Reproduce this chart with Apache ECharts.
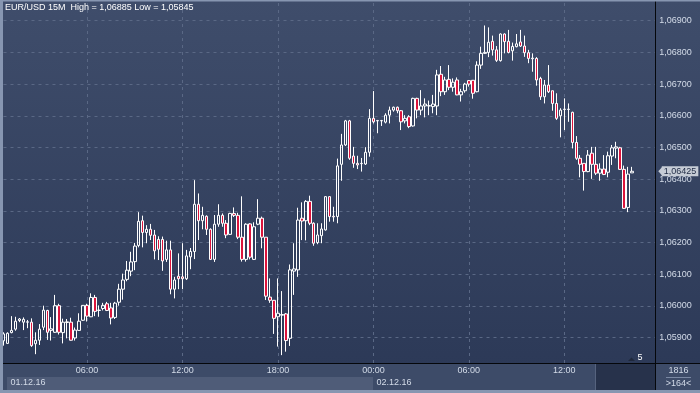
<!DOCTYPE html>
<html><head><meta charset="utf-8">
<script src="https://cdn.jsdelivr.net/npm/echarts@6/dist/echarts.min.js"></script>
<style>html,body{margin:0;padding:0;background:#34425f;}#c{width:700px;height:393px;}</style>
</head><body><div id="c"></div>
<script>
const titleText = 'EUR/USD 15M  High = 1,06885 Low = 1,05845';
const firstBar = '2016-12-01T00:45';
const barMinutes = 15;
const emptySlots = 6;
const hourTicks = ['00:00', '06:00', '12:00', '18:00'];
const yTicks = [1.059, 1.060, 1.061, 1.062, 1.063, 1.064, 1.065, 1.066, 1.067, 1.068, 1.069];
const lastPrice = 1.06425;

const opens = [1.05890,1.05882,1.05916,1.05927,1.05954,1.05949,1.05949,1.05949,1.05881,1.05892,1.05933,1.05986,1.05923,1.05917,1.06001,1.05916,1.05948,1.05949,1.05899,1.05923,
1.05955,1.06002,1.05966,1.06027,1.05986,1.05992,1.06007,1.05994,1.05964,1.06012,1.06053,1.06084,1.06110,1.06140,1.06191,1.06269,1.06232,1.06242,1.06224,1.06210,
1.06210,1.06147,1.06177,1.06053,1.06094,1.06092,1.06086,1.06155,1.06172,1.06321,1.06269,1.06283,1.06242,1.06147,1.06258,1.06286,1.06261,1.06226,1.06292,1.06286,
1.06217,1.06147,1.06259,1.06147,1.06258,1.06277,1.06217,1.06028,1.06018,1.05966,1.05971,1.05975,1.05898,1.06110,1.06114,1.06277,1.06269,1.06330,1.06261,1.06200,
1.06222,1.06240,1.06345,1.06283,1.06282,1.06447,1.06508,1.06584,1.06473,1.06450,1.06449,1.06448,1.06485,1.06592,1.06584,1.06584,1.06580,1.06602,1.06618,1.06627,
1.06616,1.06584,1.06597,1.06568,1.06655,1.06618,1.06631,1.06631,1.06629,1.06631,1.06731,1.06676,1.06715,1.06690,1.06713,1.06666,1.06679,1.06711,1.06712,1.06676,
1.06760,1.06797,1.06800,1.06835,1.06808,1.06774,1.06858,1.06835,1.06805,1.06818,1.06833,1.06820,1.06799,1.06780,1.06781,1.06718,1.06660,1.06697,1.06679,1.06639,
1.06600,1.06620,1.06620,1.06611,1.06516,1.06466,1.06450,1.06424,1.06482,1.06447,1.06419,1.06432,1.06422,1.06473,1.06498,1.06499,1.06431,1.06311,1.06420];
const closes = [1.05912,1.05914,1.05923,1.05952,1.05959,1.05958,1.05950,1.05875,1.05892,1.05927,1.05987,1.05917,1.05928,1.06001,1.05917,1.05949,1.05950,1.05892,1.05924,1.05952,
1.06002,1.05968,1.06027,1.05983,1.05987,1.06002,1.05986,1.05962,1.06009,1.06053,1.06082,1.06113,1.06139,1.06189,1.06267,1.06232,1.06242,1.06223,1.06174,1.06179,
1.06142,1.06177,1.06053,1.06082,1.06086,1.06086,1.06158,1.06172,1.06321,1.06269,1.06286,1.06242,1.06147,1.06258,1.06286,1.06261,1.06224,1.06292,1.06286,1.06217,
1.06147,1.06258,1.06154,1.06250,1.06277,1.06217,1.06031,1.06018,1.05961,1.05977,1.05973,1.05891,1.06114,1.06117,1.06271,1.06268,1.06330,1.06261,1.06198,1.06224,
1.06243,1.06345,1.06282,1.06281,1.06442,1.06508,1.06584,1.06466,1.06450,1.06445,1.06450,1.06485,1.06592,1.06581,1.06585,1.06585,1.06602,1.06618,1.06627,1.06616,
1.06581,1.06592,1.06566,1.06655,1.06618,1.06631,1.06637,1.06632,1.06637,1.06729,1.06676,1.06713,1.06690,1.06706,1.06666,1.06676,1.06700,1.06700,1.06671,1.06760,
1.06797,1.06800,1.06832,1.06808,1.06775,1.06858,1.06834,1.06800,1.06819,1.06827,1.06820,1.06799,1.06781,1.06782,1.06713,1.06660,1.06697,1.06676,1.06639,1.06592,
1.06618,1.06621,1.06621,1.06516,1.06466,1.06447,1.06424,1.06476,1.06447,1.06419,1.06432,1.06415,1.06474,1.06499,1.06502,1.06431,1.06308,1.06416,1.06425];
const lows = [1.05875,1.05880,1.05914,1.05922,1.05949,1.05924,1.05930,1.05871,1.05848,1.05877,1.05924,1.05893,1.05891,1.05915,1.05910,1.05882,1.05898,1.05891,1.05891,1.05922,
1.05953,1.05951,1.05965,1.05968,1.05966,1.05986,1.05984,1.05942,1.05959,1.06001,1.06020,1.06078,1.06094,1.06113,1.06185,1.06185,1.06198,1.06208,1.06147,1.06145,
1.06111,1.06139,1.06037,1.06024,1.06053,1.06053,1.06082,1.06116,1.06148,1.06208,1.06242,1.06224,1.06145,1.06139,1.06250,1.06250,1.06214,1.06224,1.06281,1.06211,
1.06140,1.06140,1.06147,1.06145,1.06255,1.06182,1.06019,1.06010,1.05912,1.05872,1.05845,1.05856,1.05874,1.06035,1.06092,1.06208,1.06207,1.06255,1.06190,1.06195,
1.06198,1.06238,1.06266,1.06266,1.06261,1.06395,1.06505,1.06461,1.06436,1.06432,1.06424,1.06445,1.06471,1.06576,1.06545,1.06568,1.06576,1.06576,1.06613,1.06608,
1.06555,1.06576,1.06561,1.06566,1.06592,1.06602,1.06595,1.06602,1.06608,1.06602,1.06662,1.06666,1.06681,1.06676,1.06665,1.06645,1.06673,1.06692,1.06654,1.06674,
1.06748,1.06795,1.06785,1.06790,1.06770,1.06771,1.06797,1.06797,1.06774,1.06816,1.06817,1.06786,1.06766,1.06739,1.06695,1.06650,1.06639,1.06672,1.06616,1.06587,
1.06532,1.06555,1.06581,1.06497,1.06461,1.06406,1.06364,1.06422,1.06401,1.06413,1.06395,1.06413,1.06406,1.06445,1.06466,1.06429,1.06306,1.06296,1.06420];
const highs = [1.05917,1.05917,1.05968,1.05966,1.05962,1.05964,1.05956,1.05961,1.05917,1.05943,1.06001,1.05988,1.05965,1.06035,1.06007,1.05960,1.05959,1.05963,1.05932,1.05977,
1.06003,1.06007,1.06040,1.06035,1.06002,1.06010,1.06013,1.06010,1.06013,1.06070,1.06102,1.06142,1.06171,1.06199,1.06296,1.06285,1.06255,1.06259,1.06240,1.06220,
1.06219,1.06206,1.06206,1.06092,1.06166,1.06198,1.06177,1.06183,1.06397,1.06355,1.06313,1.06286,1.06245,1.06287,1.06321,1.06292,1.06271,1.06294,1.06311,1.06294,
1.06346,1.06261,1.06261,1.06264,1.06337,1.06282,1.06217,1.06087,1.06019,1.06087,1.06047,1.05978,1.06131,1.06198,1.06310,1.06327,1.06334,1.06348,1.06264,1.06261,
1.06261,1.06346,1.06346,1.06313,1.06465,1.06543,1.06587,1.06587,1.06502,1.06474,1.06467,1.06501,1.06621,1.06678,1.06587,1.06587,1.06608,1.06629,1.06629,1.06629,
1.06618,1.06602,1.06602,1.06657,1.06657,1.06681,1.06655,1.06648,1.06666,1.06745,1.06757,1.06723,1.06760,1.06718,1.06721,1.06685,1.06704,1.06713,1.06713,1.06772,
1.06818,1.06885,1.06879,1.06853,1.06820,1.06860,1.06860,1.06871,1.06831,1.06858,1.06871,1.06853,1.06808,1.06797,1.06785,1.06723,1.06713,1.06760,1.06679,1.06671,
1.06624,1.06655,1.06639,1.06613,1.06536,1.06476,1.06450,1.06492,1.06502,1.06502,1.06450,1.06476,1.06487,1.06508,1.06518,1.06502,1.06443,1.06439,1.06439];

// category labels: one per 15-minute bar, plus empty slots to the right
function pad(n) { return (n < 10 ? '0' : '') + n; }
const categories = [];
const t0 = new Date(firstBar);
for (let i = 0; i < opens.length + emptySlots; i++) {
  const d = new Date(t0.getTime() + i * barMinutes * 60000);
  categories.push(pad(d.getDate()) + '.' + pad(d.getMonth() + 1) + '.' + String(d.getFullYear()).slice(2) + ' ' + pad(d.getHours()) + ':' + pad(d.getMinutes()));
}
const ohlc = opens.map((o, i) => [o, closes[i], lows[i], highs[i]]);
const timeOf = c => c.split(' ')[1];
const dateOf = c => c.split(' ')[0];
const fmt = v => v.toFixed(5).replace('.', ',');

const FONT = "'Liberation Sans', Arial, sans-serif";
const TXT = '#d3dbe8';
const chart = echarts.init(document.getElementById('c'), null, { renderer: 'canvas' });
chart.setOption({
  animation: false,
  backgroundColor: '#34425f',
  textStyle: { fontFamily: FONT },
  grid: { left: 3.5, right: 44.2, top: -11, bottom: 23.6, outerBoundsMode: 'none', containLabel: false },
  xAxis: [
    {
      type: 'category', data: categories, boundaryGap: false,
      axisLine: { show: false }, axisTick: { show: false }, axisLabel: { show: false },
      splitLine: { show: true, interval: (i, v) => hourTicks.includes(timeOf(v)), lineStyle: { color: '#5a6885', type: [3, 4], width: 1 } }
    },
    {
      type: 'category', data: categories, boundaryGap: false, position: 'bottom', z: 20,
      axisLine: { show: false }, axisTick: { show: false }, splitLine: { show: false },
      axisLabel: { interval: (i, v) => hourTicks.includes(timeOf(v)), formatter: v => timeOf(v), margin: -3.5,
        color: TXT, fontSize: 9, fontFamily: FONT, hideOverlap: false }
    },
    {
      type: 'category', data: categories, boundaryGap: false, position: 'bottom', z: 20,
      axisLine: { show: false }, axisTick: { show: false }, splitLine: { show: false },
      axisLabel: { interval: (i, v) => i === 0 || timeOf(v) === '00:00',
        formatter: (v, i) => i === 0 ? '{a|' + dateOf(v) + '}' : '{b|' + dateOf(v) + '}',
        align: 'left', margin: 8.5, hideOverlap: false,
        rich: { a: { color: TXT, fontSize: 9, fontFamily: FONT, padding: [0, 0, 0, 7] },
                b: { color: TXT, fontSize: 9, fontFamily: FONT, padding: [0, 0, 0, 3] } } }
    }
  ],
  yAxis: {
    type: 'value', position: 'right', min: 1.058, max: 1.070, interval: 0.001, scale: true,
    axisLine: { show: false }, axisTick: { show: false },
    axisLabel: { margin: 3.5, color: TXT, fontSize: 9, fontFamily: FONT,
      formatter: v => (yTicks.some(t => Math.abs(t - v) < 1e-7) ? fmt(v) : '') },
    splitLine: { show: true, lineStyle: { color: '#5a6885', type: [3, 4], width: 1 } }
  },
  series: [{
    type: 'candlestick', data: ohlc, barWidth: 3, clip: true, z: 5,
    itemStyle: { color: 'transparent', color0: '#dc143c', borderColor: '#ffffff', borderColor0: '#ffffff', borderWidth: 1 },
    markLine: {
      silent: true, symbol: 'none', animation: false, precision: 5,
      lineStyle: { width: 0, color: 'rgba(0,0,0,0)', opacity: 1 },
      label: { show: true, position: 'end', distance: 6, opacity: 1, formatter: () => fmt(lastPrice),
        backgroundColor: '#c6ccd6', color: '#1e2a44', fontSize: 9, fontFamily: FONT, padding: [1, 2, 0, 2] },
      data: [{ yAxis: lastPrice }]
    }
  }, {
    type: 'line', data: [], clip: false, silent: true, z: 25, symbol: 'none',
    markPoint: {
      silent: true, animation: false, symbol: 'triangle', symbolRotate: 90, symbolSize: [9, 4], symbolOffset: [4.5, 0],
      itemStyle: { color: '#c6ccd6' }, label: { show: false },
      data: [{ coord: [categories[categories.length - 1], lastPrice] }]
    }
  }],
  graphic: { elements: [
    { type: 'rect', z: -100, shape: { x: 0, y: 0, width: 700, height: 393 },
      style: { fill: new echarts.graphic.LinearGradient(0, 0, 0, 1, [{ offset: 0, color: '#3f4d6b' }, { offset: 1, color: '#2b3856' }]) } },
    { type: 'rect', z: 10, shape: { x: 0, y: 363, width: 700, height: 30 }, style: { fill: '#3d4b68' } },
    { type: 'rect', z: 11, shape: { x: 7, y: 377, width: 366, height: 13 }, style: { fill: '#4f5c78' } },
    { type: 'rect', z: 11, shape: { x: 595, y: 364, width: 61, height: 26 }, style: { fill: '#27324b' } },
    { type: 'line', z: 11, shape: { x1: 595.5, y1: 364, x2: 595.5, y2: 390 }, style: { stroke: '#56637e', lineWidth: 1 } },
    { type: 'line', z: 15, shape: { x1: 0, y1: 363.5, x2: 700, y2: 363.5 }, style: { stroke: '#05070b', lineWidth: 1 } },
    { type: 'line', z: 15, shape: { x1: 655.5, y1: 0, x2: 655.5, y2: 390 }, style: { stroke: '#05070b', lineWidth: 1 } },
    { type: 'rect', z: 15, shape: { x: 0, y: 0, width: 3, height: 393 }, style: { fill: '#8796b1' } },
    { type: 'rect', z: 15, shape: { x: 0, y: 0, width: 700, height: 1.5 }, style: { fill: '#8796b1' } },
    { type: 'rect', z: 15, shape: { x: 0, y: 390, width: 700, height: 3 }, style: { fill: '#8796b1' } },
    { type: 'line', z: 15, shape: { x1: 666, y1: 377.5, x2: 691, y2: 377.5 }, style: { stroke: '#7a88a3', lineWidth: 1 } },
    { type: 'text', z: 30, x: 5, y: 3, style: { text: titleText, fill: '#ffffff', font: '9px ' + FONT } },
    { type: 'text', z: 30, x: 678.5, y: 366, style: { text: '1816', fill: TXT, font: '9px ' + FONT, textAlign: 'center' } },
    { type: 'text', z: 30, x: 678.5, y: 379, style: { text: '>164<', fill: TXT, font: '9px ' + FONT, textAlign: 'center' } },
    { type: 'polygon', z: 30, shape: { points: [[628, 361], [631.5, 357.5], [635, 361]] }, style: { fill: '#1f283b' } },
    { type: 'text', z: 30, x: 637.5, y: 353.5, style: { text: '5', fill: '#ffffff', font: '9px ' + FONT } }
  ] }
});
</script></body></html>
